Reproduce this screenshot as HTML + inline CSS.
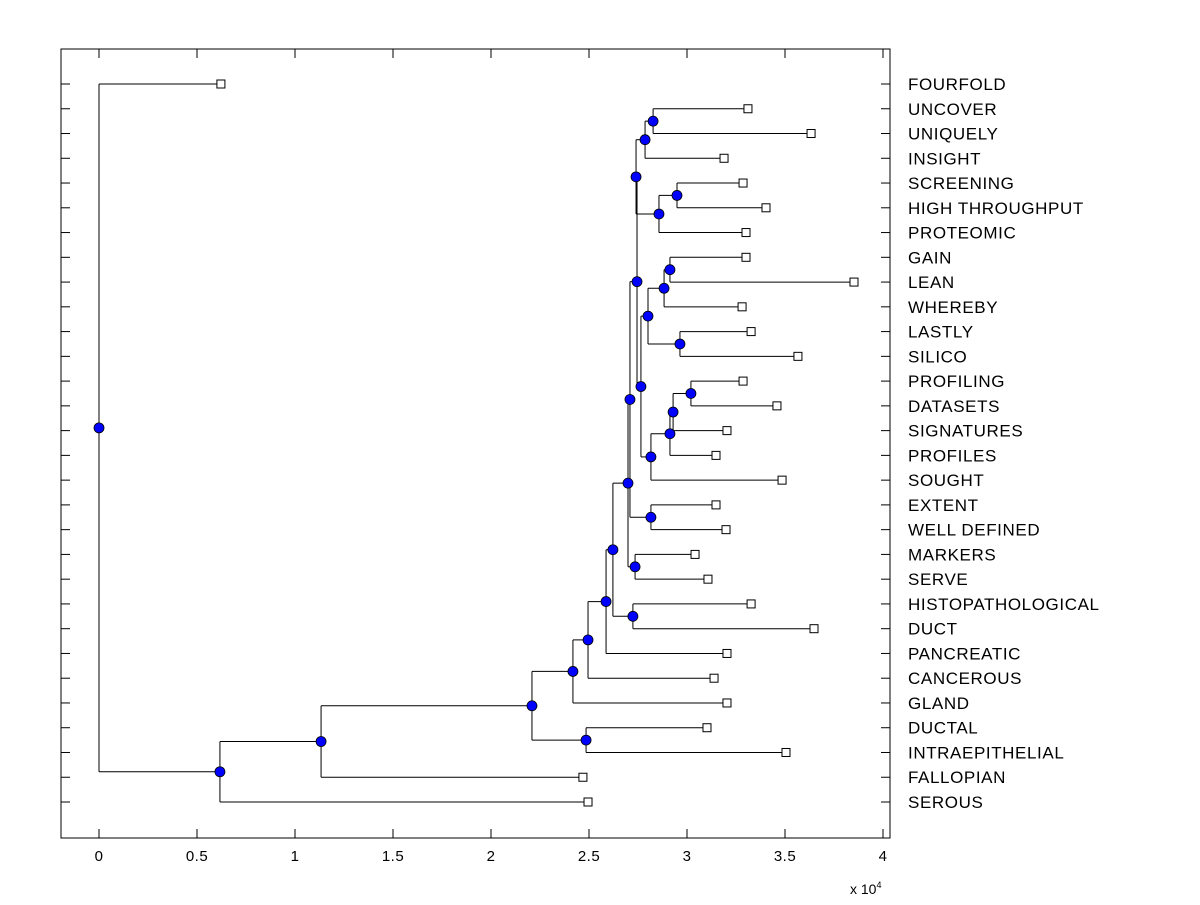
<!DOCTYPE html>
<html><head><meta charset="utf-8"><style>
body{margin:0;background:#fff;}
svg text{font-family:"Liberation Sans",Arial,sans-serif;fill:#000;}
</style></head><body>
<svg id="chart" width="1200" height="900" viewBox="0 0 1200 900" xmlns="http://www.w3.org/2000/svg">
<rect x="0" y="0" width="1200" height="900" fill="#fff"/>
<g id="g"></g>
</svg>
<script>
const leafLabels = ["FOURFOLD","UNCOVER","UNIQUELY","INSIGHT","SCREENING","HIGH THROUGHPUT","PROTEOMIC","GAIN","LEAN","WHEREBY","LASTLY","SILICO","PROFILING","DATASETS","SIGNATURES","PROFILES","SOUGHT","EXTENT","WELL DEFINED","MARKERS","SERVE","HISTOPATHOLOGICAL","DUCT","PANCREATIC","CANCEROUS","GLAND","DUCTAL","INTRAEPITHELIAL","FALLOPIAN","SEROUS"];
const leafValues = [0.622,3.311,3.633,3.189,3.286,3.403,3.301,3.301,3.852,3.281,3.327,3.566,3.286,3.459,3.204,3.148,3.485,3.148,3.199,3.041,3.107,3.327,3.648,3.204,3.138,3.204,3.102,3.505,2.469,2.495];
const nodeNames = ["root","A","B","C","D","E","F","G","H","I","J","K","L","M","P","Q","R","S","T","U","V","W","X","Y","Z","AA","AB","AC","AD"];
const nodeValues = [0,0.617,1.133,2.209,2.418,2.485,2.495,2.587,2.622,2.699,2.724,2.709,2.735,2.816,2.745,2.740,2.765,2.786,2.857,2.827,2.949,2.801,2.816,2.883,2.964,2.913,2.913,2.929,3.020];
const nodeChildren = [[0,"A"],["B",29],["C",28],["D","E"],["F",25],[26,27],["G",24],["H",23],["I","J"],["K","L"],[21,22],["P","M"],[19,20],[17,18],["Q","R"],["S","T"],["W","X"],["U",3],["V",6],[1,2],[4,5],["Y","Z"],["AB",16],["AA",9],[10,11],[7,8],["AC",15],["AD",14],[12,13]];
const xTicks = [0,0.5,1,1.5,2,2.5,3,3.5,4];
const xTickLabels = ["0","0.5","1","1.5","2","2.5","3","3.5","4"];

const L=61,R=890,T=49,B=838;
const X0=99, XS=196;
const xs = v => X0 + v*XS;
const ys = i => 84 + i*(802-84)/29;
const NS="http://www.w3.org/2000/svg";
const g=document.getElementById('g');
function mk(tag,attrs,parent){const e=document.createElementNS(NS,tag);for(const k in attrs)e.setAttribute(k,attrs[k]);(parent||g).appendChild(e);return e;}

const box=mk('rect',{x:L,y:T,width:R-L,height:B-T,fill:'none',stroke:'#000','stroke-width':1});


xTicks.forEach((t,i)=>{
  const x=xs(t);
  const a=mk('line',{x1:x,y1:B,x2:x,y2:B-9,stroke:'#000'});
  
  
  const b=mk('line',{x1:x,y1:T,x2:x,y2:T+9,stroke:'#000'});
  
  
  const tx=mk('text',{x:x,y:861,'font-size':15,'text-anchor':'middle','letter-spacing':0.5});
  tx.textContent=xTickLabels[i];
  
  
});
const ex=mk('text',{x:850,y:894,'font-size':14});
ex.innerHTML='x 10<tspan dy="-6" font-size="9">4</tspan>';



leafLabels.forEach((lab,i)=>{
  const y=ys(i);
  const a=mk('line',{x1:L,y1:y,x2:L+9,y2:y,stroke:'#000'});
  
  
  const b=mk('line',{x1:R,y1:y,x2:R-9,y2:y,stroke:'#000'});
  
  
  const t=mk('text',{x:908,y:y+6,'font-size':17,'letter-spacing':0.6});
  t.textContent=lab;
  
  
});

const pos={};
function py(c){
  if(typeof c==='number') return ys(c);
  if(pos[c]!==undefined) return pos[c];
  const k=nodeNames.indexOf(c);
  const ch=nodeChildren[k];
  pos[c]=(py(ch[0])+py(ch[1]))/2;
  return pos[c];
}
function px(c){ return typeof c==='number'? xs(leafValues[c]) : xs(nodeValues[nodeNames.indexOf(c)]); }
const lines=mk('g',{});


nodeNames.forEach((n,k)=>{
  const x=px(n);
  const ch=nodeChildren[k];
  const y1=py(ch[0]), y2=py(ch[1]);
  const v=mk('line',{x1:x,y1:y1,x2:x,y2:y2,stroke:'#000'},lines);
  
  
  ch.forEach(c=>{
    const h=mk('line',{x1:x,y1:py(c),x2:px(c),y2:py(c),stroke:'#000'},lines);
    
    
  });
});
leafLabels.forEach((lab,i)=>{
  const r=mk('rect',{x:xs(leafValues[i])-4,y:ys(i)-4,width:8,height:8,fill:'#fff',stroke:'#000'});
  
  
});
nodeNames.forEach((n,k)=>{
  const c=mk('circle',{cx:px(n),cy:py(n),r:5,fill:'#0000ff',stroke:'#000','stroke-width':0.8});
  
  
});
</script>
</body></html>
